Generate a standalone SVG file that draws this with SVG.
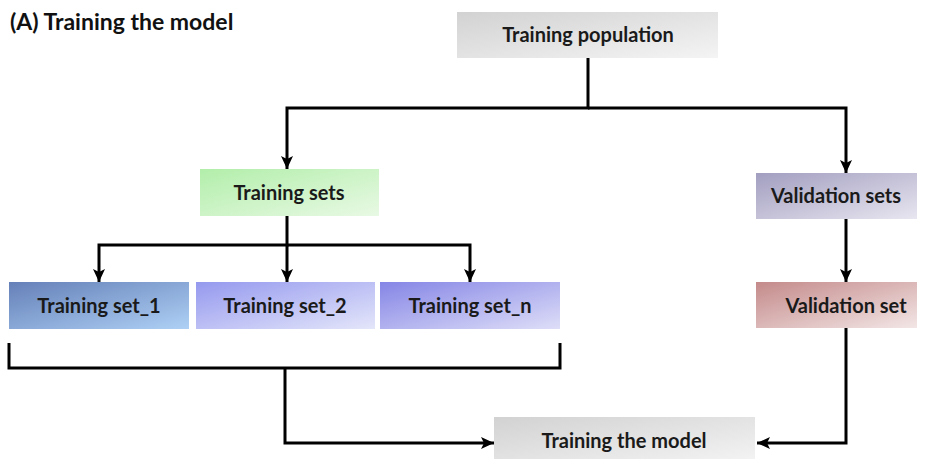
<svg xmlns="http://www.w3.org/2000/svg" width="926" height="459" viewBox="0 0 926 459">
<defs>
<style>
.lbl{font-family:Lato,"Open Sans","Liberation Sans",sans-serif;font-weight:bold;font-size:20px;fill:#1a1a1a;text-anchor:middle}
.title{font-family:Lato,"Open Sans","Liberation Sans",sans-serif;font-weight:bold;font-size:23px;fill:#111}
.con{fill:none;stroke:#000;stroke-width:3;stroke-linejoin:miter}
</style>
<marker id="ah" markerUnits="userSpaceOnUse" markerWidth="14" markerHeight="14" refX="13" refY="7" orient="auto">
<path d="M0,1 L13,7 L0,13 L3,7 z" fill="#000"/>
</marker>
<linearGradient id="gGray" x1="0" y1="0" x2="1" y2="1"><stop offset="0" stop-color="#d2d2d2"/><stop offset="1" stop-color="#f4f4f4"/></linearGradient>
<linearGradient id="gGreen" x1="0" y1="0" x2="1" y2="1"><stop offset="0" stop-color="#b2eeaa"/><stop offset="1" stop-color="#e8f9e4"/></linearGradient>
<linearGradient id="gS1" x1="0" y1="0" x2="1" y2="1"><stop offset="0" stop-color="#6580b8"/><stop offset="1" stop-color="#aed0f5"/></linearGradient>
<linearGradient id="gS2" x1="0" y1="0" x2="1" y2="1"><stop offset="0" stop-color="#9599ee"/><stop offset="1" stop-color="#e4e6fa"/></linearGradient>
<linearGradient id="gSn" x1="0" y1="0" x2="1" y2="1"><stop offset="0" stop-color="#8585e6"/><stop offset="1" stop-color="#dedef8"/></linearGradient>
<linearGradient id="gV" x1="0" y1="0" x2="1" y2="1"><stop offset="0" stop-color="#a29ec0"/><stop offset="1" stop-color="#e8e6f0"/></linearGradient>
<linearGradient id="gVs" x1="0" y1="0" x2="1" y2="1"><stop offset="0" stop-color="#c48a8a"/><stop offset="1" stop-color="#f3e6e6"/></linearGradient>
</defs>
<rect width="926" height="459" fill="#fff"/>
<text class="title" x="10" y="30">(A) Training the model</text>

<g id="connectors">
<path class="con" d="M588,58 V108 H287 V169" marker-end="url(#ah)"/>
<path class="con" d="M588,108 H846 V173" marker-end="url(#ah)"/>
<path class="con" d="M287,216 V245 H99 V282" marker-end="url(#ah)"/>
<path class="con" d="M287,245 V282" marker-end="url(#ah)"/>
<path class="con" d="M287,245 H470 V282" marker-end="url(#ah)"/>
<path class="con" d="M846,219 V282" marker-end="url(#ah)"/>
<path class="con" d="M9,343 V368 H560 V343"/>
<path class="con" d="M285,368 V443 H494" marker-end="url(#ah)"/>
<path class="con" d="M846,328 V443 H757" marker-end="url(#ah)"/>
</g>

<g id="training-population">
<rect x="457" y="12" width="261" height="46" fill="url(#gGray)"/>
<text class="lbl" x="588" y="42">Training population</text>
</g>
<g id="training-sets">
<rect x="200" y="169" width="179" height="47" fill="url(#gGreen)"/>
<text class="lbl" x="289" y="200">Training sets</text>
</g>
<g id="validation-sets">
<rect x="756" y="173" width="161" height="46" fill="url(#gV)"/>
<text class="lbl" x="836" y="203">Validation sets</text>
</g>
<g id="training-set-1">
<rect x="9" y="282" width="180" height="47" fill="url(#gS1)"/>
<text class="lbl" x="99" y="313">Training set_1</text>
</g>
<g id="training-set-2">
<rect x="196" y="282" width="179" height="47" fill="url(#gS2)"/>
<text class="lbl" x="285" y="313">Training set_2</text>
</g>
<g id="training-set-n">
<rect x="380" y="282" width="180" height="47" fill="url(#gSn)"/>
<text class="lbl" x="470" y="313">Training set_n</text>
</g>
<g id="validation-set">
<rect x="756" y="282" width="161" height="46" fill="url(#gVs)"/>
<text class="lbl" x="846" y="313">Validation set</text>
</g>
<g id="training-the-model">
<rect x="494" y="417" width="261" height="46" fill="url(#gGray)"/>
<text class="lbl" x="624" y="448">Training the model</text>
</g>
</svg>
